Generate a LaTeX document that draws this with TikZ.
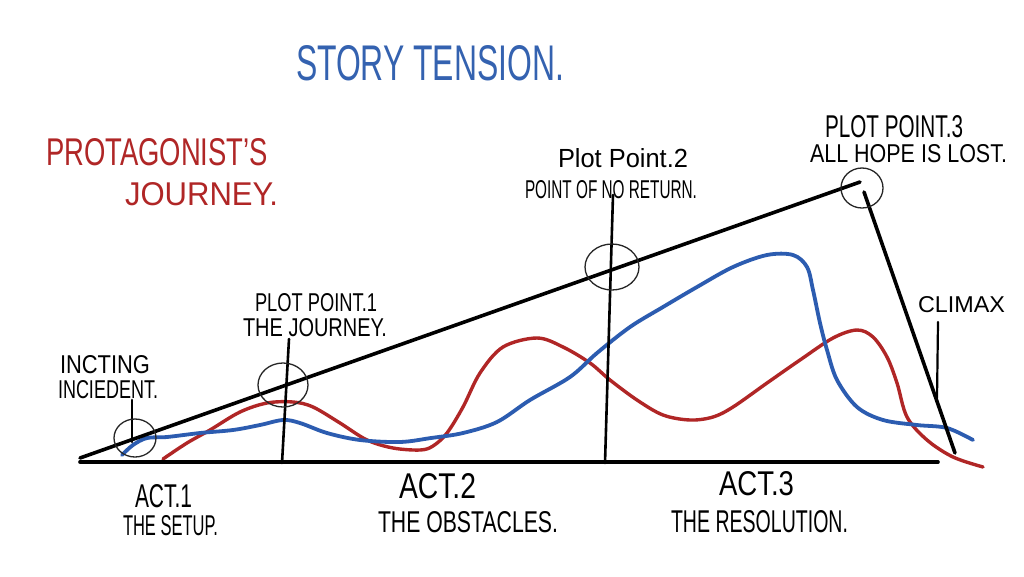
\documentclass[tikz,border=0pt]{standalone}
\usepackage{fontspec}
\usepackage{graphicx}
\setmainfont{Liberation Sans}
\definecolor{inkblue}{RGB}{44,92,176}
\definecolor{inkred}{RGB}{176,38,38}
\definecolor{titleblue}{RGB}{52,98,176}
\newcommand{\hw}[3]{\resizebox{#1pt}{#2pt}{#3}}
\tikzset{
  lbl/.style={inner sep=0pt, outer sep=0pt, anchor=base west, text=black},
  mainline/.style={line width=3.6pt, line cap=round, black},
  tick/.style={line width=2.6pt, line cap=round, black},
  ring/.style={line width=1.3pt, black!85},
  bluecurve/.style={line width=3.8pt, inkblue, line cap=round, line join=round},
  redcurve/.style={line width=3.4pt, inkred, line cap=round, line join=round},
}
\begin{document}
\begin{tikzpicture}[x=1pt,y=-1pt]
\fill[white] (0,0) rectangle (1024,576);
\useasboundingbox (0,0) rectangle (1024,576);

% titles
\node[lbl, text=titleblue] (title) at (296,80) {\hw{268}{35}{STORY TENSION.}};
\node[lbl, text=inkred] (prot) at (46,165) {\hw{222}{27}{PROTAGONIST'S}};
\node[lbl, text=inkred] (journey) at (125,205) {\hw{153}{23}{JOURNEY.}};

% frame coordinates
\coordinate (bl) at (80,462);
\coordinate (br) at (938,462);
\coordinate (dl) at (80,458);
\coordinate (dr) at (860,182);
\coordinate (ds) at (864,192);
\coordinate (de) at (955,453);
\coordinate (i1) at (132,400);
\coordinate (i2) at (132,442);
\coordinate (p1a) at (289,339);
\coordinate (p1b) at (282,463);
\coordinate (p2a) at (613,195);
\coordinate (p2b) at (605,463);
\coordinate (c1) at (938,322);
\coordinate (c2) at (937,398);

% curves
\draw[redcurve] plot[smooth, tension=0.55] coordinates {
(163,459) (187,443) (210,430) (240,412) (267,403) (293,402) (313,407) (340,423) (367,440) (393,448) (420,450) (433,446) (447,433) (463,407) (480,373) (503,347) (537,338) (563,347) (590,363) (610,380) (637,400) (663,415) (690,420) (713,417) (733,407) (767,383) (800,360) (833,338) (857,330) (873,337) (887,357) (897,383) (907,417) (927,440) (953,457) (983,467)};
\draw[bluecurve] plot[smooth, tension=0.55] coordinates {
(122,455) (133,445) (147,438) (167,437) (200,433) (233,430) (260,425) (283,420) (300,423) (327,433) (360,440) (400,442) (431,438) (463,433) (497,422) (530,400) (570,377) (597,353) (630,327) (663,307) (697,287) (733,267) (767,255) (793,255) (807,267) (813,290) (820,323) (827,350) (837,380) (857,407) (883,420) (917,425) (947,428) (973,440)};

% frame lines
\draw[mainline] (bl) -- (br);
\draw[mainline] (dl) -- (dr);
\draw[mainline] (ds) -- (de);
\draw[tick] (i1) -- (i2);
\draw[tick] (p1a) -- (p1b);
\draw[tick] (p2a) -- (p2b);
\draw[tick, line width=2.2pt] (c1) -- (c2);

% circles
\draw[ring] (135,438) ellipse [x radius=21, y radius=19];
\draw[ring] (283,385) ellipse [x radius=25, y radius=22];
\draw[ring] (612,267) ellipse [x radius=27, y radius=23];
\draw[ring] (862,188) ellipse [x radius=21, y radius=20];

% labels
\node[lbl] (inc1) at (60,373) {\hw{90}{18}{INCTING}};
\node[lbl] (inc2) at (58,398) {\hw{100}{18}{INCIEDENT.}};
\node[lbl] (pp1a) at (255,311) {\hw{122}{18}{PLOT POINT.1}};
\node[lbl] (pp1b) at (243,336) {\hw{144}{18}{THE JOURNEY.}};
\node[lbl] (pp2a) at (558,167) {\hw{130}{19}{Plot Point.2}};
\node[lbl] (pp2b) at (525,198) {\hw{172}{18}{POINT OF NO RETURN.}};
\node[lbl] (pp3a) at (825,137) {\hw{138}{22}{PLOT POINT.3}};
\node[lbl] (pp3b) at (810,162) {\hw{197}{18}{ALL HOPE IS LOST.}};
\node[lbl] (clim) at (918,312) {\hw{87}{16}{CLIMAX}};
\node[lbl] (act1) at (135,507) {\hw{57}{23}{ACT.1}};
\node[lbl] (act1b) at (123,535) {\hw{95}{20}{THE SETUP.}};
\node[lbl] (act2) at (399,498) {\hw{77}{25}{ACT.2}};
\node[lbl] (act2b) at (378,532) {\hw{180}{21}{THE OBSTACLES.}};
\node[lbl] (act3) at (719,495) {\hw{75}{24}{ACT.3}};
\node[lbl] (act3b) at (671,532) {\hw{177}{22}{THE RESOLUTION.}};
\end{tikzpicture}
\end{document}
